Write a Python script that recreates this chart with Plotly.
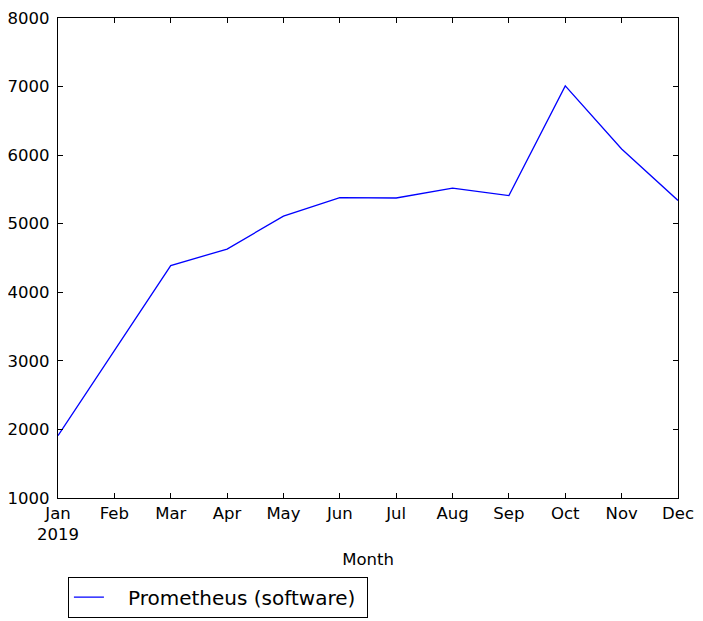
import plotly.graph_objects as go

months = ["Jan", "Feb", "Mar", "Apr", "May", "Jun", "Jul", "Aug", "Sep", "Oct", "Nov", "Dec"]
values = [1910, 3150, 4390, 4630, 5110, 5380, 5375, 5520, 5410, 7010, 6090, 5340]
tick_labels = ["Jan<br>2019", "Feb", "Mar", "Apr", "May", "Jun", "Jul", "Aug", "Sep", "Oct", "Nov", "Dec"]
y_ticks = [1000, 2000, 3000, 4000, 5000, 6000, 7000, 8000]
series_name = "Prometheus (software)"

x_pos = list(range(len(months)))

fig = go.Figure()
fig.add_trace(go.Scatter(x=x_pos, y=values, mode="lines",
                         name="\u00a0\u00a0\u00a0" + series_name + "\u00a0",
                         line=dict(color="#0000ff", width=1.3)))

axis_common = dict(showgrid=False, zeroline=False, showline=True, linecolor="black", linewidth=1.3,
                   mirror="ticks", ticks="inside", ticklen=5, tickcolor="black", tickwidth=1,
                   tickfont=dict(family="DejaVu Sans", size=16.5, color="black"))

fig.update_layout(
    width=695, height=613,
    margin=dict(l=50, r=25, t=10, b=123, autoexpand=False),
    paper_bgcolor="white", plot_bgcolor="white",
    font=dict(family="DejaVu Sans", color="black"),
    xaxis=dict(range=[0, len(months) - 1], tickmode="array", tickvals=x_pos, ticktext=tick_labels,
               title=dict(text="Month", font=dict(size=16.5), standoff=10), **axis_common),
    yaxis=dict(range=[1000, 8000], tickmode="array", tickvals=y_ticks, ticklabelstandoff=4, **axis_common),
    showlegend=True,
    legend=dict(x=0.016, y=-0.164, xanchor="left", yanchor="top", bordercolor="black", borderwidth=1,
                font=dict(size=20), bgcolor="white", itemwidth=30),
)

fig.write_html("out.html")
